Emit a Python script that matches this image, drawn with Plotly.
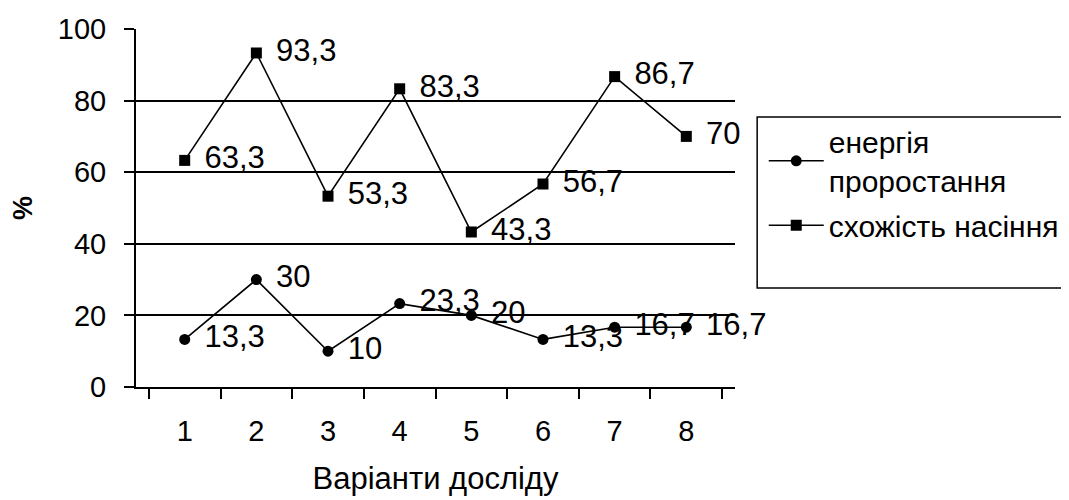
import plotly.graph_objects as go

categories = ["1", "2", "3", "4", "5", "6", "7", "8"]
energy = [13.3, 30, 10, 23.3, 20, 13.3, 16.7, 16.7]
germination = [63.3, 93.3, 53.3, 83.3, 43.3, 56.7, 86.7, 70]
series_names = ["енергія<br>проростання", "схожість насіння"]
y_ticks = [0, 20, 40, 60, 80, 100]
x_title = "Варіанти досліду"
y_title = "%"

FONT = "Liberation Sans, Arial, sans-serif"


def fmt(v):
    if float(v).is_integer():
        return str(int(v))
    return ("%.1f" % v).replace(".", ",")


fig = go.Figure()

for i, (name, vals, sym) in enumerate([(series_names[0], energy, "circle"),
                                       (series_names[1], germination, "square")]):
    fig.add_trace(go.Scatter(
        x=categories, y=vals, name=name, mode="lines+markers",
        legendgroup="g%d" % i,
        line=dict(color="black", width=1.6),
        marker=dict(symbol=sym, size=11, color="black"),
    ))
    fig.add_trace(go.Scatter(
        x=categories, y=vals, mode="markers+text", showlegend=False,
        legendgroup="g%d" % i,
        text=[fmt(v) for v in vals], textposition="middle right",
        textfont=dict(size=31, color="black", family=FONT),
        marker=dict(size=30, opacity=0), hoverinfo="skip", cliponaxis=False,
    ))

# page body has an 8px margin, so the figure is sized to compensate
fig.update_layout(
    width=1061, height=492,
    margin=dict(l=128, r=334, t=21, b=113, autoexpand=False),
    paper_bgcolor="white", plot_bgcolor="white",
    font=dict(family=FONT, size=29, color="black"),
    showlegend=True,
    legend=dict(x=1.048, y=0.759, xanchor="left", yanchor="top",
                bgcolor="rgba(0,0,0,0)", borderwidth=0,
                traceorder="grouped", tracegroupgap=3, itemwidth=55,
                font=dict(size=30, family=FONT)),
    shapes=[dict(type="rect", xref="paper", yref="paper",
                 x0=1.037, x1=1.7, y0=0.2765, y1=0.754,
                 line=dict(color="black", width=1.5))],
)

fig.update_xaxes(
    type="category", tickson="boundaries", ticks="outside", ticklen=10,
    tickwidth=2, tickcolor="black", showline=True, linecolor="black",
    linewidth=2, showgrid=False, zeroline=False,
    tickfont=dict(size=29), ticklabelstandoff=17,
    title=dict(text=x_title, font=dict(size=31), standoff=22),
)
fig.update_yaxes(
    range=[0, 100], tickvals=y_ticks, ticks="outside", ticklen=10,
    tickwidth=2, tickcolor="black", showline=True, linecolor="black",
    linewidth=2, showgrid=True, gridcolor="black", gridwidth=2,
    zeroline=False, tickfont=dict(size=29), ticklabelstandoff=12,
    title=dict(text="<b>" + y_title + "</b>", font=dict(size=27), standoff=25),
)

fig.write_html("out.html")
